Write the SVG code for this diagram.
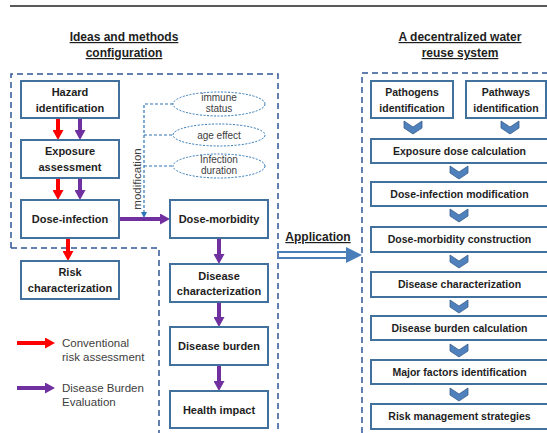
<svg xmlns="http://www.w3.org/2000/svg" width="547" height="433" viewBox="0 0 547 433">
<defs>
<style>
.box{fill:#fff;stroke:#41719c;stroke-width:2}
.bt{font-family:"Liberation Sans",Arial,sans-serif;font-weight:bold;font-size:11px;fill:#1e1e1e;text-anchor:middle}
.bt2{font-family:"Liberation Sans",Arial,sans-serif;font-weight:bold;font-size:10.5px;fill:#1e1e1e;text-anchor:middle}
.title{font-family:"Liberation Sans",Arial,sans-serif;font-weight:bold;font-size:12px;fill:#1e1e1e;text-anchor:middle;text-decoration:underline}
.leg{font-family:"Liberation Sans",Arial,sans-serif;font-size:11.5px;fill:#404040}
.et{font-family:"Liberation Sans",Arial,sans-serif;font-size:10px;fill:#404040;text-anchor:middle}
.ell{fill:#fff;stroke:#2e75b6;stroke-width:1;stroke-dasharray:2,1.5}
.dash{fill:none;stroke:#2f5597;stroke-width:1.5;stroke-dasharray:6,4}
.red{stroke:#ff0000;stroke-width:4;fill:none}
.pur{stroke:#7030a0;stroke-width:4;fill:none}
.mod{stroke:#2e75b6;stroke-width:1.2;stroke-dasharray:3,2;fill:none}
.chev{fill:#4f81bd;stroke:#385d8a;stroke-width:0.8}
</style>
<marker id="hr" markerUnits="userSpaceOnUse" markerWidth="11" markerHeight="11" refX="0" refY="5.5" orient="auto" viewBox="0 0 11 11"><path d="M0,0 L10,5.5 L0,11 z" fill="#ff0000"/></marker>
<marker id="hp" markerUnits="userSpaceOnUse" markerWidth="11" markerHeight="11" refX="0" refY="5.5" orient="auto" viewBox="0 0 11 11"><path d="M0,0 L10,5.5 L0,11 z" fill="#7030a0"/></marker>
<marker id="hm" markerUnits="userSpaceOnUse" markerWidth="6" markerHeight="6" refX="0" refY="3" orient="auto" viewBox="0 0 6 6"><path d="M0,0 L6,3 L0,6 z" fill="#2e75b6"/></marker>
<polygon id="chv" points="-9,0 0,6 9,0 9,7 0,13 -9,7"/>
</defs>
<line x1="10" y1="6" x2="547" y2="6" stroke="#222" stroke-width="1.5"/>
<g id="titles">
<text class="title" x="124" y="41">Ideas and methods</text>
<text class="title" x="124" y="57">configuration</text>
<text class="title" x="460" y="41">A decentralized water</text>
<text class="title" x="460" y="57">reuse system</text>
</g>
<g id="frames">
<path class="dash" d="M11,248 V74 H278 V433"/>
<path class="dash" d="M11,248 H159 V433"/>
<path class="dash" d="M362,433 V73 H547"/>
</g>
<g id="connectors">
<line class="red" x1="58" y1="118" x2="58" y2="130" marker-end="url(#hr)"/>
<line class="pur" x1="80" y1="118" x2="80" y2="130" marker-end="url(#hp)"/>
<line class="red" x1="58" y1="178" x2="58" y2="190" marker-end="url(#hr)"/>
<line class="pur" x1="80" y1="178" x2="80" y2="190" marker-end="url(#hp)"/>
<line class="red" x1="68" y1="238" x2="68" y2="251" marker-end="url(#hr)"/>
<line class="pur" x1="119" y1="219" x2="160" y2="219" marker-end="url(#hp)"/>
<line class="pur" x1="219" y1="238" x2="219" y2="254" marker-end="url(#hp)"/>
<line class="pur" x1="219" y1="302" x2="219" y2="317" marker-end="url(#hp)"/>
<line class="pur" x1="219" y1="365" x2="219" y2="381" marker-end="url(#hp)"/>
<path class="mod" d="M173,104 H144 V212" marker-end="url(#hm)"/>
<line class="mod" x1="144" y1="135" x2="173" y2="135"/>
<line class="mod" x1="144" y1="166" x2="173" y2="166"/>
<text class="leg" transform="translate(141,179) rotate(-90)" text-anchor="middle" font-size="11">modification</text>
<line x1="277" y1="252" x2="349" y2="252" stroke="#4a7ebb" stroke-width="2.2"/>
<line x1="277" y1="258" x2="349" y2="258" stroke="#4a7ebb" stroke-width="2.2"/>
<polygon points="346,247 362,255 346,263" fill="#4a7ebb"/>
<text class="title" x="318" y="241">Application</text>
<use href="#chv" class="chev" x="413" y="121"/>
<use href="#chv" class="chev" x="510" y="121"/>
<use href="#chv" class="chev" x="459" y="166"/>
<use href="#chv" class="chev" x="459" y="209"/>
<use href="#chv" class="chev" x="459" y="255"/>
<use href="#chv" class="chev" x="459" y="300"/>
<use href="#chv" class="chev" x="459" y="344"/>
<use href="#chv" class="chev" x="459" y="388"/>
</g>
<g id="hazard"><rect class="box" x="21" y="81" width="98" height="37"/><text class="bt" x="70" y="96">Hazard</text><text class="bt" x="70" y="112">identification</text></g>
<g id="exposure"><rect class="box" x="21" y="140" width="98" height="38"/><text class="bt" x="70" y="155">Exposure</text><text class="bt" x="70" y="171">assessment</text></g>
<g id="doseinf"><rect class="box" x="21" y="200" width="98" height="38"/><text class="bt" x="70" y="223">Dose-infection</text></g>
<g id="riskchar"><rect class="box" x="21" y="261" width="98" height="38"/><text class="bt" x="70" y="276">Risk</text><text class="bt" x="70" y="292">characterization</text></g>
<g id="dosemorb"><rect class="box" x="170" y="200" width="98" height="38"/><text class="bt" x="219" y="223">Dose-morbidity</text></g>
<g id="diseasechar"><rect class="box" x="170" y="264" width="98" height="38"/><text class="bt" x="219" y="280">Disease</text><text class="bt" x="219" y="295">characterization</text></g>
<g id="burden"><rect class="box" x="170" y="327" width="98" height="38"/><text class="bt" x="219" y="350">Disease burden</text></g>
<g id="health"><rect class="box" x="170" y="391" width="98" height="37"/><text class="bt" x="219" y="414">Health impact</text></g>
<g id="immune"><ellipse class="ell" cx="219" cy="104" rx="46" ry="12"/><text class="et" x="219" y="101">immune</text><text class="et" x="219" y="112">status</text></g>
<g id="age"><ellipse class="ell" cx="219" cy="135" rx="46" ry="11"/><text class="et" x="219" y="139">age effect</text></g>
<g id="infdur"><ellipse class="ell" cx="219" cy="166" rx="46" ry="12"/><text class="et" x="219" y="163">Infection</text><text class="et" x="219" y="174">duration</text></g>
<g id="legend">
<line class="red" x1="17" y1="343" x2="45" y2="343" marker-end="url(#hr)"/>
<text class="leg" x="62" y="347">Conventional</text><text class="leg" x="62" y="361">risk assessment</text>
<line class="pur" x1="17" y1="388" x2="45" y2="388" marker-end="url(#hp)"/>
<text class="leg" x="62" y="392">Disease Burden</text><text class="leg" x="62" y="406">Evaluation</text>
</g>
<g id="pathogens"><rect class="box" x="371" y="81" width="82" height="37"/><text class="bt2" x="412" y="96">Pathogens</text><text class="bt2" x="412" y="112">identification</text></g>
<g id="pathways"><rect class="box" x="466" y="81" width="80" height="37"/><text class="bt2" x="506" y="96">Pathways</text><text class="bt2" x="506" y="112">identification</text></g>
<g id="expdose"><rect class="box" x="371" y="139" width="177" height="24"/><text class="bt2" x="459.5" y="155">Exposure dose calculation</text></g>
<g id="dimod"><rect class="box" x="371" y="182" width="177" height="24"/><text class="bt2" x="459.5" y="198">Dose-infection modification</text></g>
<g id="dmcons"><rect class="box" x="371" y="227" width="177" height="25"/><text class="bt2" x="459.5" y="243">Dose-morbidity construction</text></g>
<g id="dchar2"><rect class="box" x="371" y="272" width="177" height="25"/><text class="bt2" x="459.5" y="288">Disease characterization</text></g>
<g id="dbcalc"><rect class="box" x="371" y="316" width="177" height="24"/><text class="bt2" x="459.5" y="332">Disease burden calculation</text></g>
<g id="major"><rect class="box" x="371" y="360" width="177" height="24"/><text class="bt2" x="459.5" y="376">Major factors identification</text></g>
<g id="riskmgmt"><rect class="box" x="371" y="404" width="177" height="25"/><text class="bt2" x="459.5" y="420">Risk management strategies</text></g>
</svg>
